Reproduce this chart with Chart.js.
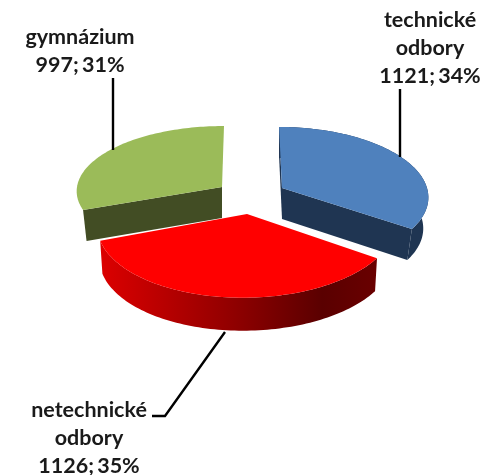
<!DOCTYPE html>
<html><head><meta charset="utf-8">
<style>html,body{margin:0;padding:0;background:#fff}canvas{display:block}</style>
<script src="https://cdn.jsdelivr.net/npm/chart.js@4"></script></head>
<body><canvas id="c" width="483" height="475"></canvas>
<script>
const categories = ['technické odbory', 'netechnické odbory', 'gymnázium'];
const values = [1121, 1126, 997];
const percents = [34, 35, 31];
const colors = ['#4f81bd', '#ff0000', '#9bbb59'];
const wallColors = ['#1f3552', '#8e0000', '#424d24'];

// per-slice perspective camera: apex, radii, skew, perspective, wall height, visible wall parts
const views = [
  {ax:282, ay:188, R:145, S:-3.3, T:68, k:.114, h:31, bx:.965, rim:true,  startFace:true,  endFace:true},
  {ax:247, ay:214, R:147.7, S:3.8, T:72, k:.14, h:33, bx:.985, rim:true,  startFace:false, endFace:false},
  {ax:222, ay:187, R:145, S:2.1, T:64.1, k:.051, h:31, bx:.975, rim:false, startFace:true,  endFace:false}
];
const labelLines = [['technické','odbory'],['netechnické','odbory'],['gymnázium']];
const labelPos = [{x:430,y:27},{x:89,y:417},{x:80,y:44}];
const leaders = [[[400,157],[400,89]],[[225,332],[165,416],[152,416]],[[113,150],[113,78]]];

function project(v, th, bottom){
  const u = Math.sin(th), c = Math.cos(th), w = 1 + v.k*c;
  let X = (u*v.R + c*v.S)/w, Y = -c*v.T/w;
  if (bottom){ X *= v.bx; Y += v.h; }
  return [v.ax + X, v.ay + Y];
}
function apex(v, bottom){ return [v.ax, v.ay + (bottom ? v.h : 0)]; }
function poly(ctx, pts, fill){
  ctx.beginPath(); pts.forEach((p,i)=> i ? ctx.lineTo(p[0],p[1]) : ctx.moveTo(p[0],p[1]));
  ctx.closePath(); ctx.fillStyle = fill; ctx.fill();
}
function drawSlice(ctx){
  const i = this.$context.dataIndex, v = views[i];
  const a0 = this.startAngle + Math.PI/2, a1 = this.endAngle + Math.PI/2;
  const N = 90, top = [], bot = [];
  for (let n=0;n<=N;n++){ const t = a0+(a1-a0)*n/N; top.push(project(v,t,false)); bot.push(project(v,t,true)); }
  ctx.save();
  let wall = wallColors[i];
  if (i===1){
    const g = ctx.createLinearGradient(100,0,378,0);
    g.addColorStop(0,'#dc0000'); g.addColorStop(.45,'#950000'); g.addColorStop(.8,'#5a0000'); g.addColorStop(1,'#6a0000');
    wall = g;
  }
  if (v.rim) poly(ctx, top.concat(bot.slice().reverse()), wall);
  const A = apex(v,false), B = apex(v,true);
  if (v.startFace) poly(ctx,[A,top[0],bot[0],B], wallColors[i]);
  if (v.endFace) poly(ctx,[A,top[N],bot[N],B], wallColors[i]);
  poly(ctx,[A].concat(top), this.options.backgroundColor);
  ctx.restore();
}
const pie3d = {
  id:'pie3d',
  beforeDatasetDraw(chart){ chart.getDatasetMeta(0).data.forEach(a=>{ a.draw = drawSlice; }); },
  afterDraw(chart){
    const ctx = chart.ctx; ctx.save();
    ctx.strokeStyle='#000'; ctx.lineWidth=2.4; ctx.lineJoin='round';
    leaders.forEach(l=>{ ctx.beginPath(); l.forEach((p,i)=> i?ctx.lineTo(p[0],p[1]):ctx.moveTo(p[0],p[1])); ctx.stroke(); });
    ctx.fillStyle='#1a1a1a'; ctx.font='bold 21.5px Lato'; ctx.textAlign='center'; ctx.textBaseline='alphabetic';
    ctx.wordSpacing='-2px';
    categories.forEach((_,i)=>{
      const lines = labelLines[i].concat([values[i]+'; '+percents[i]+'%']);
      lines.forEach((s,n)=> ctx.fillText(s, labelPos[i].x, labelPos[i].y + n*28));
    });
    ctx.restore();
  }
};
new Chart(document.getElementById('c'),{
  type:'pie',
  data:{labels:categories,datasets:[{data:values,backgroundColor:colors,borderWidth:0}]},
  options:{responsive:false,animation:false,events:[],plugins:{legend:{display:false},tooltip:{enabled:false}}},
  plugins:[pie3d]
});
</script></body></html>
